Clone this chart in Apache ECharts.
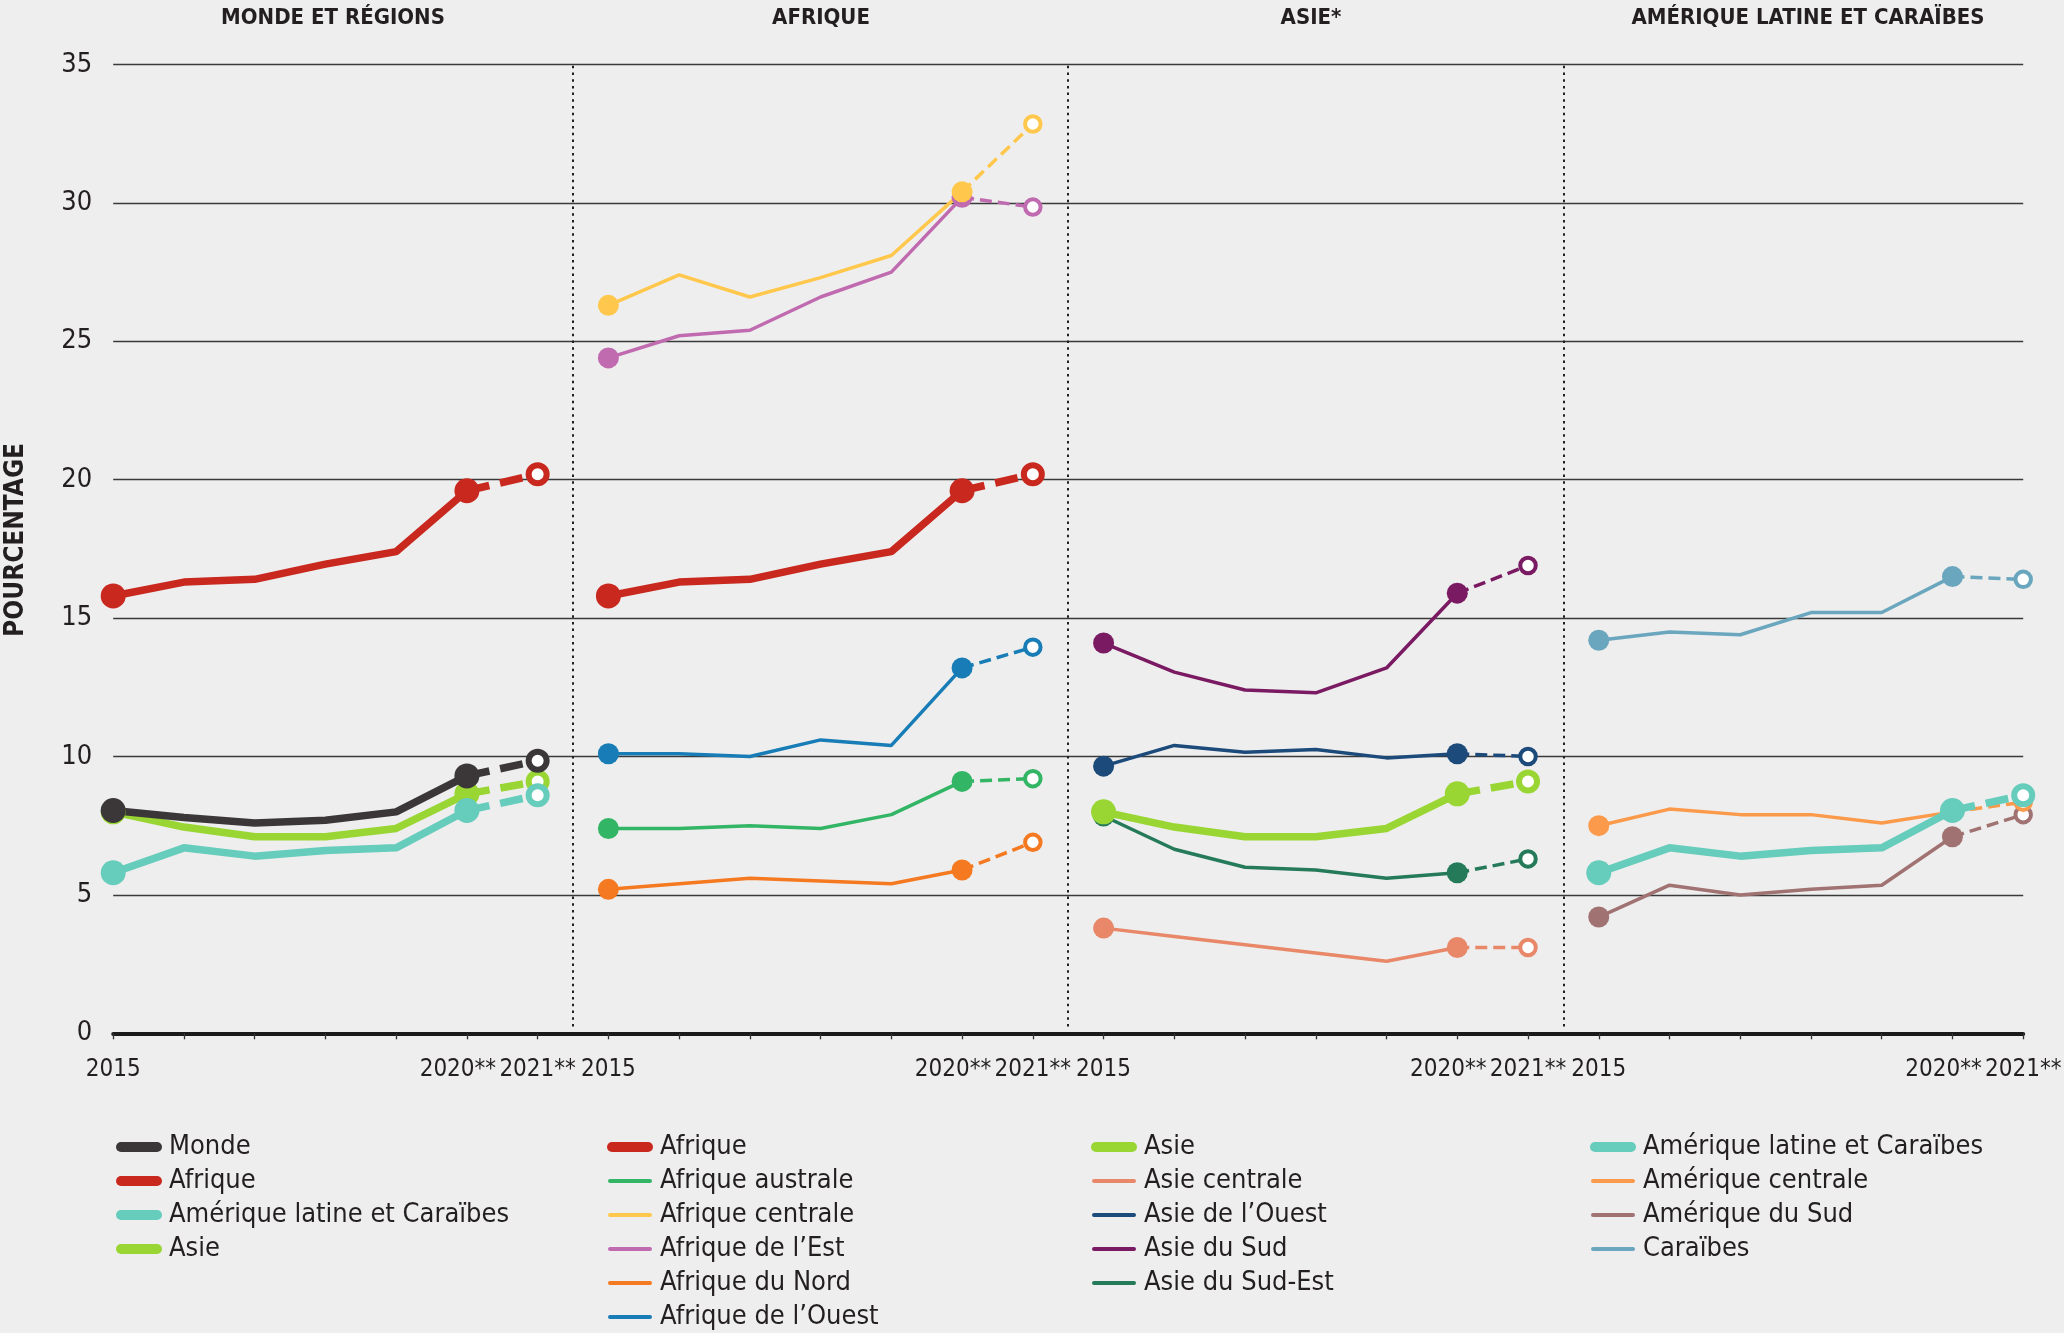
<!DOCTYPE html>
<html>
<head>
<meta charset="utf-8">
<script src="https://cdn.jsdelivr.net/npm/echarts@6/dist/echarts.min.js"></script>
<style>
html,body{margin:0;padding:0;background:#eeeeee;}
#chart{width:2064px;height:1333px;}
</style>
</head>
<body>
<div id="chart"></div>
<script>
// ---------- DATA ----------
const panelTitles = ['MONDE ET RÉGIONS', 'AFRIQUE', 'ASIE*', 'AMÉRIQUE LATINE ET CARAÏBES'];
const yearLabels = ['2015', '2016', '2017', '2018', '2019', '2020**', '2021**'];
const shownYearLabels = ['2015', '', '', '', '', '2020**', '2021**'];
const yAxisTitle = 'POURCENTAGE';

// Monde et régions
const monde          = [8.05, 7.8, 7.6, 7.7, 8.0, 9.3, 9.85];
const afrique        = [15.8, 16.3, 16.4, 16.95, 17.4, 19.6, 20.2];
const ameriqueLatine = [5.8, 6.7, 6.4, 6.6, 6.7, 8.05, 8.6];
const asie           = [8.0, 7.45, 7.1, 7.1, 7.4, 8.65, 9.1];
// Afrique
const afriqueAustrale = [7.4, 7.4, 7.5, 7.4, 7.9, 9.1, 9.2];
const afriqueCentrale = [26.3, 27.4, 26.6, 27.3, 28.1, 30.4, 32.85];
const afriqueEst      = [24.4, 25.2, 25.4, 26.6, 27.5, 30.2, 29.85];
const afriqueNord     = [5.2, 5.4, 5.6, 5.5, 5.4, 5.9, 6.9];
const afriqueOuest    = [10.1, 10.1, 10.0, 10.6, 10.4, 13.2, 13.95];
// Asie
const asieCentrale = [3.8, 3.5, 3.2, 2.9, 2.6, 3.1, 3.1];
const asieOuest    = [9.65, 10.4, 10.15, 10.25, 9.95, 10.1, 10.0];
const asieSud      = [14.1, 13.05, 12.4, 12.3, 13.2, 15.9, 16.9];
const asieSudEst   = [7.85, 6.65, 6.0, 5.9, 5.6, 5.8, 6.3];
// Amérique latine et Caraïbes
const ameriqueCentrale = [7.5, 8.1, 7.9, 7.9, 7.6, 8.0, 8.35];
const ameriqueSud      = [4.2, 5.35, 5.0, 5.2, 5.35, 7.1, 7.9];
const caraibes         = [14.2, 14.5, 14.4, 15.2, 15.2, 16.5, 16.4];

// ---------- STYLE / LAYOUT ----------
const F = "'Liberation Sans Narrow','DejaVu Sans Condensed','Arial Narrow','Liberation Sans',sans-serif";
const TXT = '#231f20';
const C = {
  monde: '#3b3738', afrique: '#c8281e', lac: '#66ccbb', asie: '#99d633',
  afAustrale: '#33b566', afCentrale: '#ffc84c', afEst: '#c06ab0', afNord: '#f47920', afOuest: '#187db6',
  asCentrale: '#e88868', asOuest: '#1c4a7a', asSud: '#7a1a62', asSudEst: '#257a5a',
  amCentrale: '#fb9a4a', amSud: '#a07272', caraibes: '#6aa6bd'
};
// draw order inside each panel (later = on top)
const panels = [
  [
    {name: 'Asie', v: asie, c: C.asie, thick: true},
    {name: 'Amérique latine et Caraïbes', v: ameriqueLatine, c: C.lac, thick: true},
    {name: 'Afrique', v: afrique, c: C.afrique, thick: true},
    {name: 'Monde', v: monde, c: C.monde, thick: true}
  ],
  [
    {name: 'Afrique du Nord', v: afriqueNord, c: C.afNord},
    {name: 'Afrique australe', v: afriqueAustrale, c: C.afAustrale},
    {name: 'Afrique de l’Ouest', v: afriqueOuest, c: C.afOuest},
    {name: 'Afrique de l’Est', v: afriqueEst, c: C.afEst},
    {name: 'Afrique centrale', v: afriqueCentrale, c: C.afCentrale},
    {name: 'Afrique', v: afrique, c: C.afrique, thick: true}
  ],
  [
    {name: 'Asie centrale', v: asieCentrale, c: C.asCentrale},
    {name: 'Asie du Sud-Est', v: asieSudEst, c: C.asSudEst},
    {name: 'Asie de l’Ouest', v: asieOuest, c: C.asOuest},
    {name: 'Asie du Sud', v: asieSud, c: C.asSud},
    {name: 'Asie', v: asie, c: C.asie, thick: true}
  ],
  [
    {name: 'Amérique du Sud', v: ameriqueSud, c: C.amSud},
    {name: 'Caraïbes', v: caraibes, c: C.caraibes},
    {name: 'Amérique centrale', v: ameriqueCentrale, c: C.amCentrale},
    {name: 'Amérique latine et Caraïbes', v: ameriqueLatine, c: C.lac, thick: true}
  ]
];
const legendCols = [
  ['Monde', 'Afrique', 'Amérique latine et Caraïbes', 'Asie'],
  ['Afrique', 'Afrique australe', 'Afrique centrale', 'Afrique de l’Est', 'Afrique du Nord', 'Afrique de l’Ouest'],
  ['Asie', 'Asie centrale', 'Asie de l’Ouest', 'Asie du Sud', 'Asie du Sud-Est'],
  ['Amérique latine et Caraïbes', 'Amérique centrale', 'Amérique du Sud', 'Caraïbes']
];
const thickNames = ['Monde', 'Afrique', 'Amérique latine et Caraïbes', 'Asie'];
const legendLeft = [114, 605, 1089, 1588];
const titleX = [333, 821, 1311, 1808];

const N = yearLabels.length; // 7 points per panel
const ICON_THICK = 'path://M0,0M50,12M7,1L43,1A5,5,0,0,1,43,11L7,11A5,5,0,0,1,7,1Z';
const ICON_THIN = 'path://M0,0M50,12M5,4L45,4A2,2,0,0,1,45,8L5,8A2,2,0,0,1,5,4Z';

// ---------- SERIES ----------
const series = [];
panels.forEach((regions, p) => {
  regions.forEach(r => {
    const lw = r.thick ? 7.5 : 3.5;
    const fillSize = r.thick ? 25 : 21;
    const hollowSize = r.thick ? 18 : 15.5;
    const hollowBorder = r.thick ? 6 : 4;
    const dash = r.thick ? [23, 11] : [12, 6];
    // solid part 2015 -> 2020
    series.push({
      type: 'line', name: r.name, color: r.c,
      data: r.v.slice(0, N - 1).map((val, i) => [p * N + i, val]),
      lineStyle: {color: r.c, width: lw},
      itemStyle: {color: r.c},
      symbol: 'circle', showSymbol: true, showAllSymbol: true,
      symbolSize: (val, params) => (params.dataIndex === 0 || params.dataIndex === N - 2) ? fillSize : 0,
      emphasis: {disabled: true}, silent: true, animation: false
    });
    // dashed part 2020 -> 2021
    series.push({
      type: 'line', name: r.name, color: r.c,
      data: r.v.slice(N - 2).map((val, i) => [p * N + N - 2 + i, val]),
      lineStyle: {color: r.c, width: lw, type: dash},
      itemStyle: {color: '#ffffff', borderColor: r.c, borderWidth: hollowBorder},
      symbol: 'circle', showSymbol: true, showAllSymbol: true,
      symbolSize: (val, params) => params.dataIndex === 1 ? hollowSize : 0,
      emphasis: {disabled: true}, silent: true, animation: false
    });
  });
});
// dotted dividers between panels
series[0].markLine = {
  silent: true, symbol: ['none', 'none'], label: {show: false}, animation: false,
  lineStyle: {color: '#231f20', type: [2.5, 4.2], width: 2},
  data: panelTitles.slice(1).map((t, i) => [{coord: [i * N + N - 0.5, 0.25]}, {coord: [i * N + N - 0.5, 35]}])
};

// ---------- OPTION ----------
const option = {
  backgroundColor: '#eeeeee',
  animation: false,
  grid: {left: 113.2, right: 40.8, top: 64.5, bottom: 299.7, containLabel: false, outerBoundsMode: 'none'},
  xAxis: {
    type: 'value', min: 0, max: panels.length * N - 1, interval: 1,
    splitLine: {show: false},
    axisLine: {show: true, onZero: false, lineStyle: {color: '#1a1a1a', width: 4}},
    axisTick: {show: true, length: 6, lineStyle: {color: '#333', width: 1.3}},
    axisLabel: {
      show: true, margin: 24, fontSize: 24, fontFamily: F, color: TXT,
      showMinLabel: true, showMaxLabel: true, hideOverlap: false,
      formatter: v => {
        const k = Math.round(v) % N;
        const t = shownYearLabels[k];
        return k === N - 2 ? '{s|' + t + '}' : t;
      },
      rich: {s: {fontSize: 24, fontFamily: F, color: TXT, padding: [0, 18, 0, 0]}}
    }
  },
  yAxis: {
    type: 'value', min: 0, max: 35, interval: 5,
    name: yAxisTitle, nameLocation: 'middle', nameRotate: 90, nameGap: 84,
    nameTextStyle: {fontSize: 26, fontWeight: 'bold', fontFamily: F, color: TXT, padding: [0, 0, 0, 18]},
    axisLine: {show: false}, axisTick: {show: false},
    axisLabel: {fontSize: 27, fontFamily: F, color: TXT, margin: 21},
    splitLine: {show: true, lineStyle: {color: '#3a3a3a', width: 1.3}}
  },
  legend: legendCols.map((col, i) => ({
    orient: 'vertical', left: legendLeft[i], top: 1133.5, height: 320, padding: 0,
    itemWidth: 50, itemHeight: 12, itemGap: 7, selectedMode: false,
    symbolKeepAspect: true,
    itemStyle: {borderWidth: 0},
    textStyle: {fontSize: 27, fontFamily: F, color: TXT, lineHeight: 24},
    data: col.map(n => ({name: n, icon: thickNames.includes(n) ? ICON_THICK : ICON_THIN}))
  })),
  graphic: panelTitles.map((t, i) => ({
    type: 'text', x: titleX[i], y: 18, silent: true,
    style: {text: t, align: 'center', verticalAlign: 'middle', fill: TXT, font: 'bold 22px ' + F}
  })),
  series: series
};

const chart = echarts.init(document.getElementById('chart'), null, {renderer: 'canvas'});
chart.setOption(option);
</script>
</body>
</html>
